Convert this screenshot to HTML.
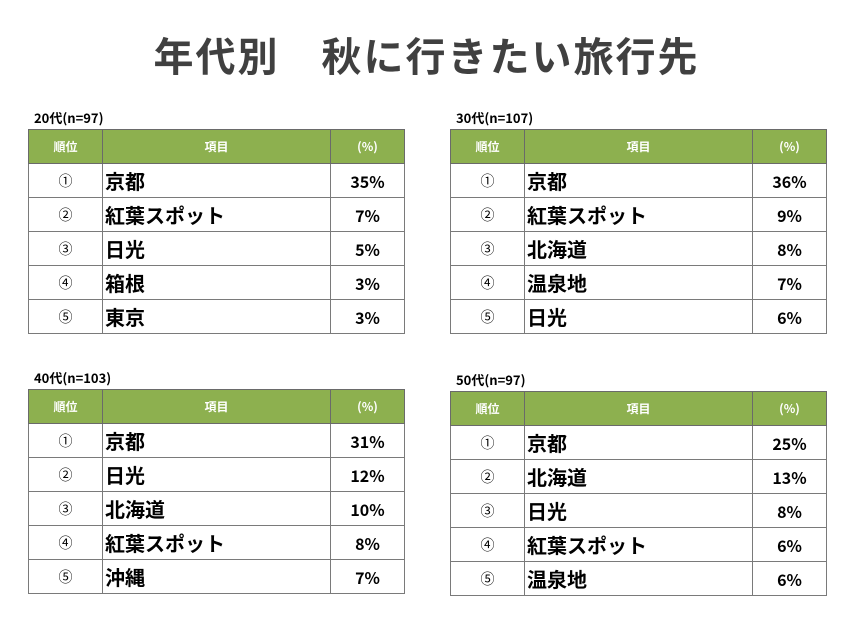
<!DOCTYPE html>
<html><head><meta charset="utf-8">
<style>
body{margin:0;width:853px;height:640px;background:#fff;font-family:"Liberation Sans","Noto Sans CJK JP",sans-serif;position:relative;overflow:hidden}
h1{position:absolute;top:26px;left:0;width:853px;margin:0;text-align:center;font-size:40px;font-weight:bold;color:#404040;font-family:"Noto Sans CJK JP",sans-serif;letter-spacing:2px;line-height:56px}
.cap{position:absolute;font-size:13px;font-weight:bold;color:#000;font-family:"Noto Sans CJK JP",sans-serif}
table{position:absolute;border-collapse:collapse;width:376px;table-layout:fixed}
td,th{border:1px solid #7a7a7a;padding:0;height:33px}
th{background:#8db04f;color:#fff;font-size:12px;font-weight:bold;font-family:"Noto Sans CJK JP",sans-serif;border-color:#6a6a6a}
td.r{text-align:center;font-size:14px;font-family:"Noto Sans CJK JP",sans-serif}
td.i{font-size:20px;font-weight:bold;padding-left:2px;font-family:"Noto Sans CJK JP",sans-serif}
td.p{text-align:center;font-size:16px;font-weight:bold;font-family:"Noto Sans CJK JP",sans-serif}
</style></head><body>
<h1>年代別　秋に行きたい旅行先</h1>
<script>
const groups=["20代(n=97)","30代(n=107)","40代(n=103)","50代(n=97)"];
const items=[["京都","紅葉スポット","日光","箱根","東京"],["京都","紅葉スポット","北海道","温泉地","日光"],["京都","日光","北海道","紅葉スポット","沖縄"],["京都","北海道","日光","紅葉スポット","温泉地"]];
const values=[[35,7,5,3,3],[36,9,8,7,6],[31,12,10,8,7],[25,13,8,6,6]];
const ranks=["①","②","③","④","⑤"];
const pos=[[28,108],[450,108],[28,368],[450,370]];
groups.forEach((g,k)=>{
  const c=document.createElement('div');
  c.className='cap';c.textContent=g;
  c.style.left=(pos[k][0]+6)+'px';c.style.top=pos[k][1]+'px';
  
  
  document.body.appendChild(c);
  const t=document.createElement('table');
  t.style.left=pos[k][0]+'px';t.style.top=(pos[k][1]+21)+'px';
  
  
  let h='<colgroup><col style="width:74px"><col style="width:228px"><col style="width:74px"></colgroup><tr><th>順位</th><th>項目</th><th>(%)</th></tr>';
  items[k].forEach((it,i)=>{h+='<tr><td class="r">'+ranks[i]+'</td><td class="i">'+it+'</td><td class="p">'+values[k][i]+'%</td></tr>';});
  t.innerHTML=h;
  document.body.appendChild(t);
});
</script>
</body></html>
